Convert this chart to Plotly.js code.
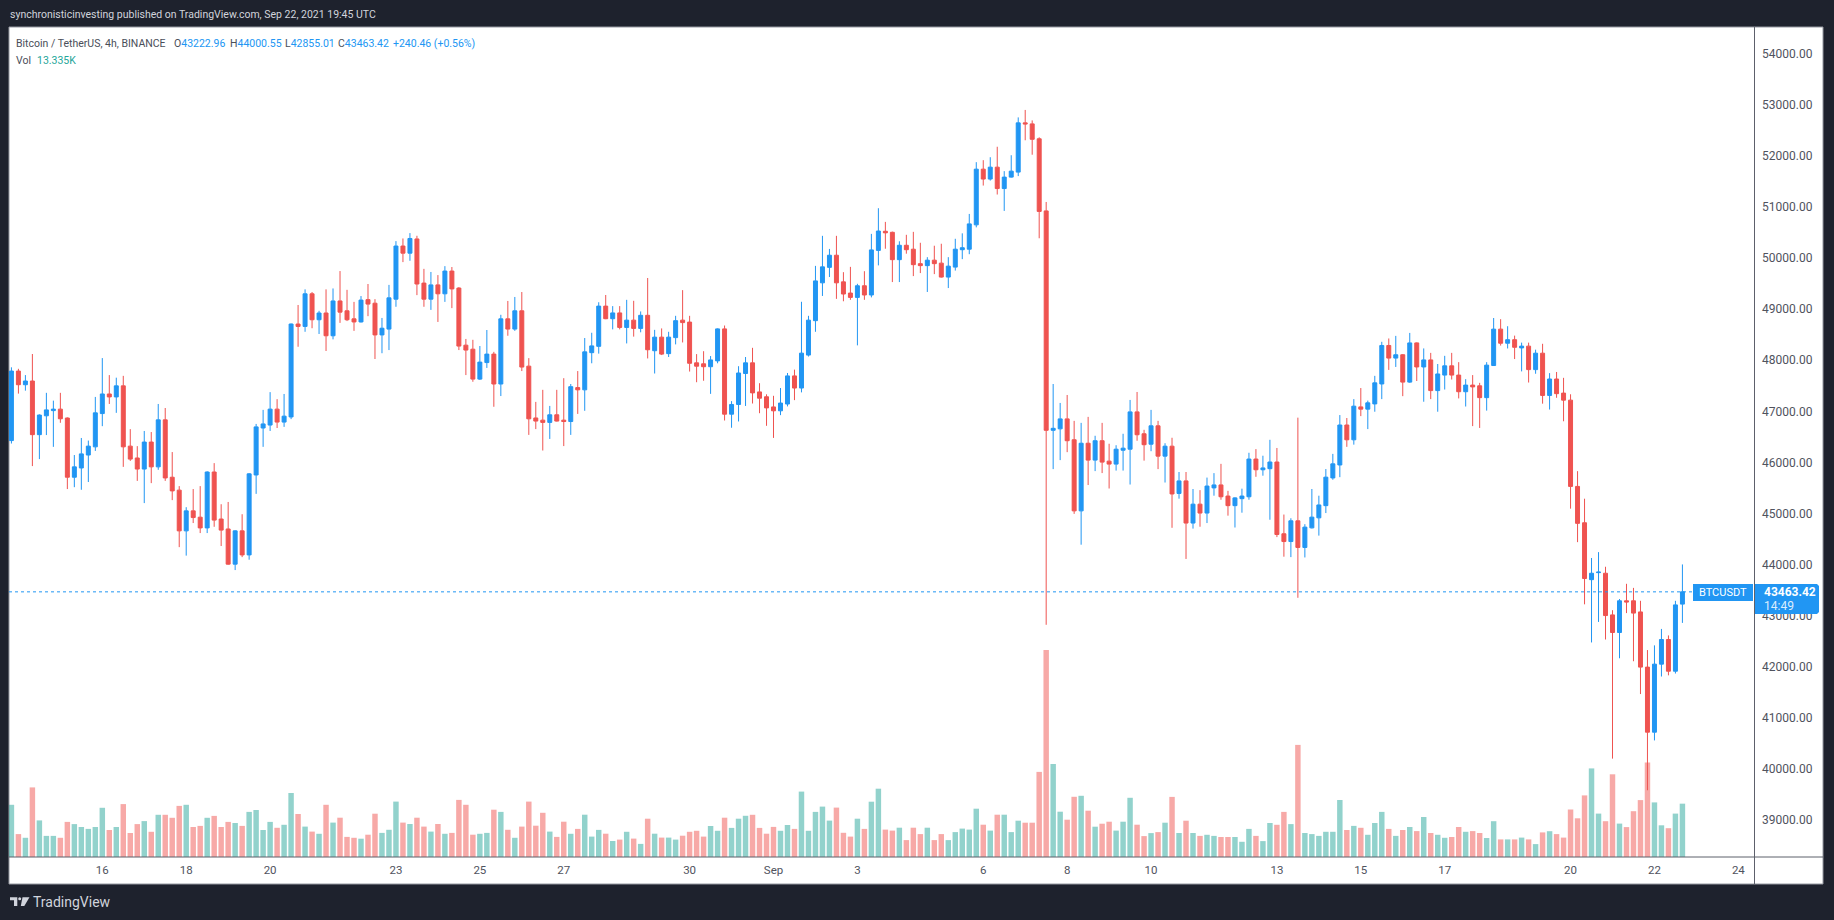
<!DOCTYPE html>
<html><head><meta charset="utf-8">
<script src="https://cdn.plot.ly/plotly-3.0.1.min.js"></script>
<style>html,body{margin:0;padding:0;background:#1e222d;overflow:hidden}#chart{width:1834px;height:920px}</style>
</head><body><div id="chart"></div>
<script>
// ---- data (BTCUSDT 4h, Binance) ----
const startTime = '2021-08-13T20:00:00Z';
const opens = [
46427,47789,47521,47594,46543,46912,47014,47043,46869,45709,
45890,46144,46304,46956,47340,47282,47499,46318,46086,45869,
46398,45912,46833,45709,45456,44658,45050,44926,44716,45811,
44890,44695,44006,44658,44187,45753,46673,46731,47043,46789,
46890,48710,48663,49302,48794,48926,48480,49162,48969,48812,
48751,49188,49118,48497,48611,49197,50238,50098,50377,49512,
49197,49477,49302,49748,49415,48296,48217,47631,47955,48121,
47535,48812,48611,48969,47885,46870,46827,46783,46932,46827,
46800,47465,47421,48149,48273,49061,48814,48928,48643,48786,
48624,48881,48187,48453,48130,48444,48786,48748,47950,47931,
47874,47988,48615,46944,47134,47741,47950,47380,47285,47086,
47010,47143,47694,47456,48102,48776,49517,49820,50058,49536,
49317,49232,49460,49279,50153,50527,50507,49971,50253,50176,
49893,49854,49961,49903,49630,49825,50166,50176,50653,51744,
51550,51783,51364,51588,51686,52651,52631,52339,50926,46628,
46657,46852,46443,45050,46375,46044,46424,46024,45966,46238,
46258,46989,46560,46356,46716,46122,46317,45391,45637,44811,
45181,45007,45500,45558,45340,45152,45289,45326,46065,45855,
45876,46007,44601,44449,44855,44333,44717,44913,45152,45695,
45949,46732,46442,47087,47043,47145,47536,48290,48043,48108,
47572,48340,47869,48007,47406,47710,47891,47710,47384,47514,
47500,47268,47897,48610,48334,48403,48242,48277,47817,48139,
47311,47633,47357,47219,45529,44817,43702,43840,43828,43012,
42667,43288,43288,43070,41989,40714,42047,42530,41909,43222.96];
const highs = [
47862,47833,47710,48123,46940,47362,47209,47362,46880,46144,
46478,46427,47282,48043,47710,47659,47695,46651,46318,46615,
46594,47144,47065,46202,45535,45122,45477,45535,45825,45985,
45180,45224,44670,44984,45789,46753,47028,47376,47238,47340,
48720,49083,49389,49337,48969,49389,49407,49748,49380,49144,
49258,49494,49197,48829,49477,50334,50386,50491,50439,49791,
49730,49669,49844,49827,49433,48418,48401,48279,48593,48165,
48891,49162,49240,49337,48042,47185,47421,47106,47421,47649,
47535,47789,48436,48539,49137,49279,49061,49061,49184,49165,
48957,49612,48596,48624,48558,48871,49374,48871,48121,48178,
48083,48625,48681,47200,47884,48064,48244,47551,47333,47304,
47456,47751,47817,49146,48871,49849,50438,50181,50438,49726,
49830,49498,49745,50476,50979,50711,50520,50331,50458,50516,
50302,50020,50244,50283,50020,50380,50487,50867,51881,51920,
51978,52183,51705,52017,52758,52904,52699,52368,51101,47535,
47164,47320,46813,46774,46891,46521,46774,46365,46336,46560,
47223,47379,46638,47028,46813,46375,46482,45811,45811,45478,
45456,45702,45789,45971,45442,45318,45485,46188,46260,46130,
46442,46282,44978,44905,46876,44789,45478,45347,45869,46166,
46927,46869,47239,47456,47210,47695,48362,48427,48478,48120,
48536,48350,48232,48145,47927,48087,48145,47963,47630,47710,
47558,47963,48828,48805,48667,48483,48346,48346,48208,48323,
47748,47771,47656,47334,45828,45288,44127,44242,43955,43104,
43323,43621,43541,43288,42323,42415,42737,42610,43288,44000.55];
const lows = [
46369,47347,47405,45927,46064,46535,46304,46775,45477,45514,
45463,45615,46224,46709,47144,46970,45912,46028,45637,45202,
45593,45854,45637,45260,44339,44173,44811,44615,44615,44738,
44361,43995,43890,44144,44093,45383,46304,46615,46673,46695,
46847,48265,48558,48628,48515,48182,48410,48733,48768,48576,
48740,48864,48025,48138,48200,49048,49923,49949,49276,49048,
48987,48751,49144,49022,48200,47710,47579,47614,47850,47089,
47299,48480,48576,47789,46538,46652,46232,46459,46800,46319,
46538,46949,47010,47941,48130,48805,48605,48605,48330,48463,
48548,48036,47741,48102,48064,48311,48349,47779,47570,47599,
47342,47941,46820,46678,46801,47105,47153,46963,46716,46479,
46925,47096,47219,47371,48073,48558,49260,49631,49203,49156,
49184,48292,49184,49232,49859,50185,49532,49532,50088,49649,
49708,49338,49688,49620,49415,49757,49981,50078,50604,51423,
51520,51247,50926,51579,51608,52310,52027,50390,42818,45868,
46044,46200,44991,44387,45556,45829,45790,45488,45839,45839,
45566,46424,46034,46219,45868,45605,44718,45289,44108,44702,
44739,44811,45347,45268,44956,44724,45014,45268,45717,45739,
44876,44536,44152,44144,43347,44137,44705,44565,45007,45659,
45710,46304,46347,46906,46652,46992,47239,47811,47869,47297,
47558,47594,47188,47239,46992,47427,47623,47253,47094,46710,
46674,47014,47890,48288,48231,48024,47782,47564,47736,47150,
47035,47265,46805,45093,44437,43219,42472,42874,42530,40196,
42162,43047,42104,41461,39576,40553,41805,41828,41863,42855.01];
const closes = [
47789,47521,47594,46543,46927,47028,47043,46854,45709,45912,
46166,46318,46970,47340,47282,47499,46304,46064,45869,46398,
45912,46833,45695,45441,44658,45050,44919,44716,45811,44869,
44673,44006,44658,44187,45775,46695,46753,47043,46789,46905,
48710,48663,49302,48794,48926,48480,49162,48943,48794,48751,
49179,49101,48497,48628,49223,50238,50098,50386,49494,49197,
49477,49302,49748,49398,48278,48200,47631,47964,48121,47535,
48812,48611,48969,47867,46853,46809,46783,46932,46809,46800,
47483,47421,48165,48282,49061,48814,48928,48643,48786,48624,
48881,48206,48453,48121,48453,48776,48738,47941,47884,47874,
48007,48615,46944,47134,47751,47950,47361,47257,47067,47010,
47162,47694,47456,48140,48786,49555,49830,50058,49517,49298,
49232,49460,49279,50162,50532,50497,49971,50253,50166,49873,
49854,49961,49893,49630,49844,50176,50205,50672,51744,51550,
51783,51364,51588,51705,52651,52631,52329,50916,46628,46667,
46852,46424,45050,46375,46044,46424,46005,45966,46258,46278,
46989,46541,46346,46716,46122,46317,45381,45637,44811,45181,
45007,45536,45558,45326,45152,45304,45340,46065,45855,45891,
46007,44587,44449,44855,44333,44731,44927,45166,45710,45971,
46732,46442,47101,47043,47166,47558,48290,48043,48108,47572,
48340,47869,48007,47406,47732,47891,47710,47384,47514,47478,
47268,47905,48610,48334,48403,48254,48277,47817,48139,47311,
47633,47346,47219,45529,44805,43725,43828,43850,42999,42667,
43288,43265,43047,41989,40714,42047,42530,41909,43208,43463.42];
const volumes = [
13050,5725,4800,17400,9150,5275,5275,4800,8775,8225,
7500,7025,7500,12300,6750,7500,13225,6000,8225,8975,
6300,10550,10550,9800,12775,13050,7500,7775,9800,10275,
7500,8775,8500,7775,11275,11750,6750,8775,7300,8050,
16000,10750,7600,6350,5800,13050,8600,9825,5025,4800,
4575,5575,10825,6025,6800,13850,8600,8250,9825,7600,
6350,8250,5800,6025,14275,13050,5575,5800,6025,11825,
11275,6800,4800,7600,13850,7825,11050,6350,5025,8825,
5800,7025,10575,5100,6775,5825,4000,4350,6300,4600,
3275,9575,5825,4850,4850,4350,5325,6300,6550,5100,
7750,6550,9825,7275,9575,10300,10550,7275,5825,7525,
6550,8000,7025,16350,6550,11275,12600,9100,12350,6050,
5100,9575,7025,13825,17075,6850,6600,7325,4225,7325,
5725,7325,4225,5725,4225,6225,7100,6850,12075,8075,
6600,10575,10575,6225,9075,8575,8575,21275,51725,23250,
11325,9325,15050,15300,11575,7575,8325,8825,6600,8825,
14800,8075,5225,5975,6225,8575,15025,6000,9075,6000,
5275,5550,5275,5000,5000,5000,3800,7025,5275,3975,
8500,8050,11275,8225,28025,6000,5725,5275,6300,6300,
14250,6750,7775,7300,5550,8500,11275,7025,5275,6750,
7500,6475,10000,6000,5550,4800,5000,7500,6300,6475,
6000,4750,8950,4400,4400,4400,4850,4400,3225,6150,
6450,5725,4850,11875,9675,15400,22150,10850,8950,20675,
8350,7475,11450,14225,23625,13650,7925,7200,10850,13335];
const lastPrice = 43463.42;
const dayTicks = ['2021-08-16','2021-08-18','2021-08-20','2021-08-23','2021-08-25','2021-08-27','2021-08-30',
  '2021-09-01','2021-09-03','2021-09-06','2021-09-08','2021-09-10','2021-09-13','2021-09-15','2021-09-17',
  '2021-09-20','2021-09-22','2021-09-24'];
const dayLabels = ['16','18','20','23','25','27','30','Sep','3','6','8','10','13','15','17','20','22','24'];
const priceTicks = [39000,40000,41000,42000,43000,44000,45000,46000,47000,48000,49000,50000,51000,52000,53000,54000];

// ---- build ----
const BAR_MS = 4 * 3600 * 1000;
const t0 = Date.parse(startTime);
const times = opens.map((_, i) => new Date(t0 + i * BAR_MS).toISOString().slice(0, 19).replace('T', ' '));
const UP = '#2196f3', DOWN = '#ef5350';
const volColors = opens.map((o, i) => closes[i] >= o ? 'rgba(38,166,154,0.5)' : 'rgba(239,83,80,0.5)');

// pixel -> paper helpers (layout only)
const L = 9, R = 1754, T = 27, B = 857;
const px = x => (x - L) / (R - L);
const py = y => (B - y) / (B - T);

const volTrace = {
  type: 'bar', x: times, y: volumes, yaxis: 'y', xaxis: 'x',
  marker: {color: volColors, line: {width: 0}}, width: BAR_MS * 0.78, hoverinfo: 'skip'
};
const candleTrace = {
  type: 'candlestick', x: times, open: opens, high: highs, low: lows, close: closes,
  xaxis: 'x', yaxis: 'y2', whiskerwidth: 0,
  increasing: {line: {color: UP, width: 1}, fillcolor: UP},
  decreasing: {line: {color: DOWN, width: 1}, fillcolor: DOWN},
  hoverinfo: 'skip'
};

const gray = '#50535e';
const lineCol = '#5d606b';
function pth(pts){ return 'M' + pts.map(p => px(p[0]) + ',' + py(p[1])).join(' L') + ' Z'; }

const shapes = [
  {type:'rect', xref:'paper', yref:'paper', x0:px(9), x1:px(1823), y0:py(884), y1:py(27),
   fillcolor:'#ffffff', line:{color:'#9598a1', width:1}, layer:'below'},
  {type:'line', xref:'paper', yref:'paper', x0:px(1754.5), x1:px(1754.5), y0:py(884), y1:py(27),
   line:{color:lineCol, width:1}},
  {type:'line', xref:'paper', yref:'paper', x0:px(9), x1:px(1823), y0:py(857), y1:py(857),
   line:{color:lineCol, width:1}},
  {type:'line', xref:'paper', yref:'y2', x0:0, x1:px(1693), y0:lastPrice, y1:lastPrice,
   line:{color:UP, width:1, dash:'dot'}},
  // last-price label boxes
  {type:'rect', xref:'paper', yref:'paper', x0:px(1693), x1:px(1753), y0:py(601), y1:py(584),
   fillcolor:UP, line:{width:0}, layer:'above'},
  {type:'path', xref:'paper', yref:'paper', layer:'above', fillcolor:UP, line:{width:0},
   path:pth([[1755,584],[1817,584],[1819,586],[1819,612],[1817,614],[1755,614]])},
  // TradingView logo (approximate)
  {type:'path', xref:'paper', yref:'paper', path:pth([[10,897.3],[17.3,897.3],[17.3,906],[14,906],[14,900.3],[10,900.3]]),
   fillcolor:'#d1d4dc', line:{width:0}},
  {type:'circle', xref:'paper', yref:'paper', x0:px(18.2), x1:px(21.2), y0:py(900.3), y1:py(897.3),
   fillcolor:'#d1d4dc', line:{width:0}},
  {type:'path', xref:'paper', yref:'paper', path:pth([[22.5,897.3],[29.5,897.3],[24.3,906],[20.8,906]]),
   fillcolor:'#d1d4dc', line:{width:0}}
];

const legFont = {family:'Roboto, sans-serif', size:10.5, color:'#4a4e59'};
const blue = s => '<span style="color:#2196f3">' + s + '</span>';
function ann(x, y, text, font, extra){ return Object.assign({xref:'paper', yref:'paper', x:px(x), y:py(y), xanchor:'left', yanchor:'middle', text:text, showarrow:false, font:font}, extra||{}); }

const annotations = [
  ann(8, 15, 'synchronisticinvesting published on TradingView.com, Sep 22, 2021 19:45 UTC', {family:'Roboto, sans-serif', size:10.5, color:'#d1d4dc'}),
  ann(14, 43, 'Bitcoin / TetherUS, 4h, BINANCE', legFont),
  ann(172, 43, 'O' + blue('43222.96'), legFont),
  ann(228, 43, 'H' + blue('44000.55'), legFont),
  ann(283, 43, 'L' + blue('42855.01'), legFont),
  ann(336, 43, 'C' + blue('43463.42'), legFont),
  ann(391, 43, blue('+240.46 (+0.56%)'), legFont),
  ann(14, 60, 'Vol', legFont),
  ann(35, 60, '<span style="color:#26a69a">13.335K</span>', legFont),
  ann(1723, 592.5, 'BTCUSDT', {family:'Roboto, sans-serif', size:11, color:'#ffffff'}, {xanchor:'center'}),
  ann(1762, 592, '<b>43463.42</b>', {family:'Roboto, sans-serif', size:12, color:'#ffffff'}),
  ann(1762, 606, '14:49', {family:'Roboto, sans-serif', size:12, color:'rgba(255,255,255,0.85)'}),
  ann(31, 902, 'TradingView', {family:'Roboto, sans-serif', size:14, color:'#d1d4dc'})
];

const layout = {
  width: 1834, height: 920,
  margin: {l: L, r: 1834 - R, t: T, b: 920 - B, pad: 0},
  paper_bgcolor: '#1e222d', plot_bgcolor: 'rgba(0,0,0,0)',
  showlegend: false, hovermode: false, dragmode: false,
  boxgap: 0.2, boxgroupgap: 0.29,
  font: {family: 'Roboto, sans-serif', color: gray},
  xaxis: {type: 'date', range: ['2021-08-13 18:37', '2021-09-24 08:57'], rangeslider: {visible: false},
    showgrid: false, zeroline: false, showline: false, ticks: '', tickmode: 'array',
    tickvals: dayTicks, ticktext: dayLabels, tickfont: {size: 11.5, color: gray}, ticklabelstandoff: 4, fixedrange: true},
  yaxis: {range: [0, 207500], visible: false, fixedrange: true, showgrid: false, zeroline: false},
  yaxis2: {overlaying: 'y', side: 'right', range: [38269, 54529], tickmode: 'array',
    tickvals: priceTicks, ticktext: priceTicks.map(v => v.toFixed(2)),
    showgrid: false, zeroline: false, showline: false, ticks: '',
    tickfont: {size: 12, color: gray}, ticklabelstandoff: 7, fixedrange: true},
  shapes: shapes, annotations: annotations
};

Plotly.newPlot('chart', [volTrace, candleTrace], layout, {displayModeBar: false, staticPlot: true});
</script>
</body></html>
